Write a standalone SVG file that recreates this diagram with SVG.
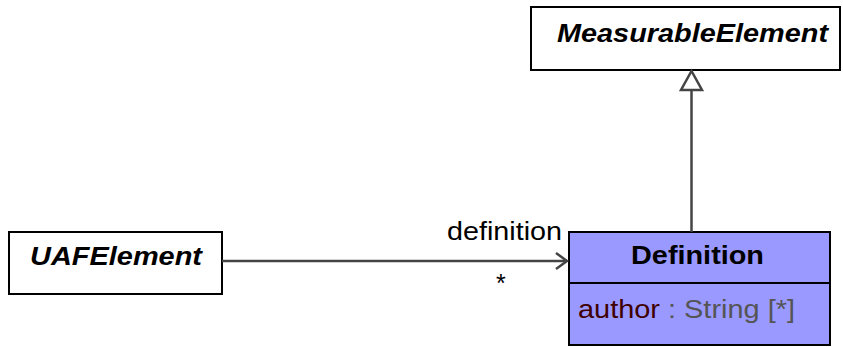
<svg xmlns="http://www.w3.org/2000/svg" width="843" height="347" viewBox="0 0 843 347">
<style>
.box{fill:#ffffff;stroke:#000000;stroke-width:2}
.cls{fill:#9999ff;stroke:#000000;stroke-width:2}
.name{font-family:"Liberation Sans",Arial,sans-serif;font-size:26px;font-weight:bold;font-style:italic;fill:#000000}
.title{font-family:"Liberation Sans",Arial,sans-serif;font-size:26px;font-weight:bold;fill:#000000}
.lbl{font-family:"Liberation Sans",Arial,sans-serif;font-size:25px;fill:#000000}
.conn{fill:none;stroke:#444444;stroke-width:2.5}
</style>
<rect width="843" height="347" fill="#ffffff"/>
<g id="MeasurableElement">
<rect class="box" x="531" y="7" width="309" height="63"/>
<text class="name" x="557" y="42" textLength="271" lengthAdjust="spacingAndGlyphs">MeasurableElement</text>
</g>
<g id="UAFElement">
<rect class="box" x="9" y="232" width="213" height="62"/>
<text class="name" x="30" y="265" textLength="172" lengthAdjust="spacingAndGlyphs">UAFElement</text>
</g>
<g id="Definition">
<rect class="cls" x="569" y="232" width="261" height="113"/>
<line x1="569" y1="283" x2="830" y2="283" stroke="#000000" stroke-width="2"/>
<text class="title" x="631" y="264" textLength="133" lengthAdjust="spacingAndGlyphs">Definition</text>
<text class="lbl" x="578" y="318" textLength="217" lengthAdjust="spacingAndGlyphs"><tspan fill="#400000">author</tspan><tspan fill="#555555"> : String [*]</tspan></text>
</g>
<g id="connectors">
<line class="conn" x1="691.5" y1="90" x2="691.5" y2="232"/>
<polygon points="691.5,71 681,90 702,90" fill="#ffffff" stroke="#444444" stroke-width="2.5" stroke-linejoin="miter"/>
<line class="conn" x1="222" y1="261" x2="567" y2="261"/>
<polyline class="conn" points="556,253 567,261 556,269"/>
<text class="lbl" x="447" y="240" textLength="115" lengthAdjust="spacingAndGlyphs">definition</text>
<text class="lbl" x="496" y="292">*</text>
</g>
</svg>
